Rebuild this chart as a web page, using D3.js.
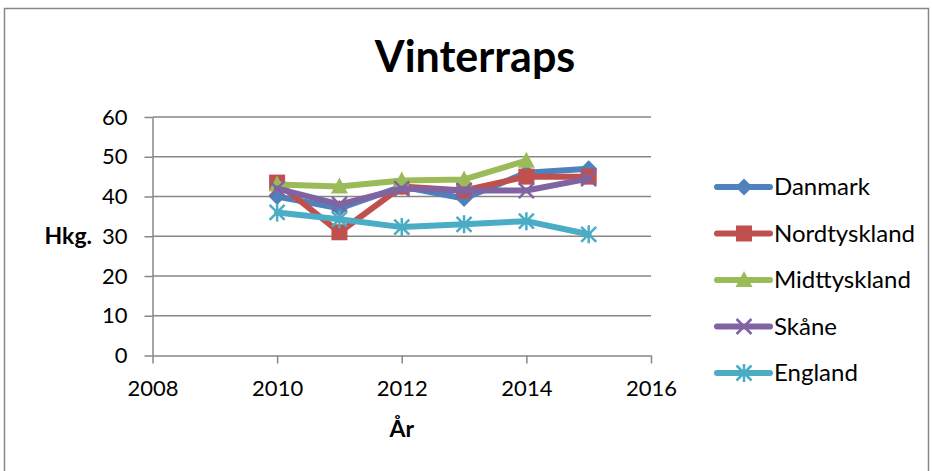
<!DOCTYPE html>
<html>
<head>
<meta charset="utf-8">
<script src="https://cdn.jsdelivr.net/npm/d3@7"></script>
<style>
  body { margin: 0; background: #fff; }
  svg text { font-family: Lato, "Open Sans", sans-serif; fill: #000; }
  .axis path, .axis line { stroke: #878787; stroke-width: 1.5; }
  .axis text { font-size: 22px; }
</style>
</head>
<body>
<div id="graph"></div>
<script>
var years = [2010, 2011, 2012, 2013, 2014, 2015];
var danmark = [40, 37, 42.5, 39.5, 46, 47];
var nordtyskland = [43.5, 31, 42.5, 41.5, 45, 45];
var midttyskland = [43, 42.5, 44, 44.3, 49, null];
var skane = [42, 38, 42, 41.5, 41.5, 44.5];
var england = [36, 34.3, 32.3, 33, 33.8, 30.5];
var xTicks = [2008, 2010, 2012, 2014, 2016];
var yTicks = [0, 10, 20, 30, 40, 50, 60];

var series = [
  { name: "Danmark", values: danmark, color: "#4F81BD", marker: "diamond" },
  { name: "Nordtyskland", values: nordtyskland, color: "#C0504D", marker: "square" },
  { name: "Midttyskland", values: midttyskland, color: "#9BBB59", marker: "triangle" },
  { name: "Skåne", values: skane, color: "#8064A2", marker: "x" },
  { name: "England", values: england, color: "#4BACC6", marker: "star" }
];

var width = 932, height = 471;

var chart = d3.select("#graph").append("svg")
    .attr("width", width)
    .attr("height", height);

// outer frame
chart.append("rect")
    .attr("x", 4.5).attr("y", 8.5)
    .attr("width", 924).attr("height", 470)
    .attr("fill", "none")
    .attr("stroke", "#878787")
    .attr("stroke-width", 1.5);

var xScale = d3.scaleLinear().domain([2008, 2016]).range([152.5, 651]);
var yScale = d3.scaleLinear().domain([0, 60]).range([355.5, 117]);

// gridlines
chart.append("g").selectAll("line")
    .data(yTicks.filter(function(d) { return d > 0; }))
    .enter().append("line")
    .attr("x1", xScale(2008)).attr("x2", xScale(2016))
    .attr("y1", function(d) { return yScale(d); })
    .attr("y2", function(d) { return yScale(d); })
    .attr("stroke", "#878787")
    .attr("stroke-width", 1.5);

//Create X axis
chart.append("g")
    .attr("class", "axis")
    .attr("transform", "translate(0," + yScale(0) + ")")
    .call(d3.axisBottom(xScale).tickValues(xTicks).tickFormat(d3.format("d"))
      .tickSize(8).tickSizeOuter(0).tickPadding(17));

//Create Y axis
chart.append("g")
    .attr("class", "axis")
    .attr("transform", "translate(" + xScale(2008) + ",0)")
    .call(d3.axisLeft(yScale).tickValues(yTicks).tickSize(8).tickSizeOuter(0).tickPadding(17));

chart.selectAll(".axis text").attr("fill", "#000");

// title and axis titles
chart.append("text")
    .attr("x", 475).attr("y", 72)
    .attr("text-anchor", "middle")
    .attr("font-size", "43px")
    .attr("font-weight", "bold")
    .text("Vinterraps");

chart.append("text")
    .attr("x", 92).attr("y", 244)
    .attr("text-anchor", "end")
    .attr("font-size", "23px")
    .attr("font-weight", "bold")
    .text("Hkg.");

chart.append("text")
    .attr("x", (xScale(2008) + xScale(2016)) / 2).attr("y", 437)
    .attr("text-anchor", "middle")
    .attr("font-size", "23px")
    .attr("font-weight", "bold")
    .text("År");

// marker shapes
function drawMarker(g, type, color) {
  if (type == "diamond") {
    g.append("path").attr("d", "M0,-8.5L8.5,0L0,8.5L-8.5,0Z").attr("fill", color);
  } else if (type == "square") {
    g.append("rect").attr("x", -8).attr("y", -8).attr("width", 16).attr("height", 16).attr("fill", color);
  } else if (type == "triangle") {
    g.append("path").attr("d", "M0,-9L8.5,7L-8.5,7Z").attr("fill", color);
  } else if (type == "x") {
    g.append("path").attr("d", "M-7.5,-7.5L7.5,7.5M7.5,-7.5L-7.5,7.5")
      .attr("stroke", color).attr("stroke-width", 2.5).attr("fill", "none");
  } else if (type == "star") {
    g.append("path").attr("d", "M-7.5,-7.5L7.5,7.5M7.5,-7.5L-7.5,7.5M0,-9L0,9")
      .attr("stroke", color).attr("stroke-width", 2.5).attr("fill", "none");
  }
}

var line = d3.line()
    .defined(function(d) { return d.v != null; })
    .x(function(d) { return xScale(d.year); })
    .y(function(d) { return yScale(d.v); });

series.forEach(function(s) {
  var pts = years.map(function(y, i) { return { year: y, v: s.values[i] }; });
  var g = chart.append("g").attr("class", "series");
  g.append("path")
    .attr("d", line(pts))
    .attr("fill", "none")
    .attr("stroke", s.color)
    .attr("stroke-width", 6)
    .attr("stroke-linejoin", "round")
    .attr("stroke-linecap", "round");
  pts.filter(function(d) { return d.v != null; }).forEach(function(d) {
    var m = g.append("g").attr("transform", "translate(" + xScale(d.year) + "," + yScale(d.v) + ")");
    drawMarker(m, s.marker, s.color);
  });
});

// legend
var legend = chart.append("g").attr("transform", "translate(717,187)");
series.forEach(function(s, i) {
  var row = legend.append("g").attr("transform", "translate(0," + (i * 46.5) + ")");
  row.append("line")
    .attr("x1", 0).attr("x2", 53)
    .attr("stroke", s.color)
    .attr("stroke-width", 6)
    .attr("stroke-linecap", "round");
  var m = row.append("g").attr("transform", "translate(27,0)");
  drawMarker(m, s.marker, s.color);
  row.append("text")
    .attr("x", 57).attr("y", 8)
    .attr("font-size", "24px")
    .text(s.name);
});
</script>
</body>
</html>
